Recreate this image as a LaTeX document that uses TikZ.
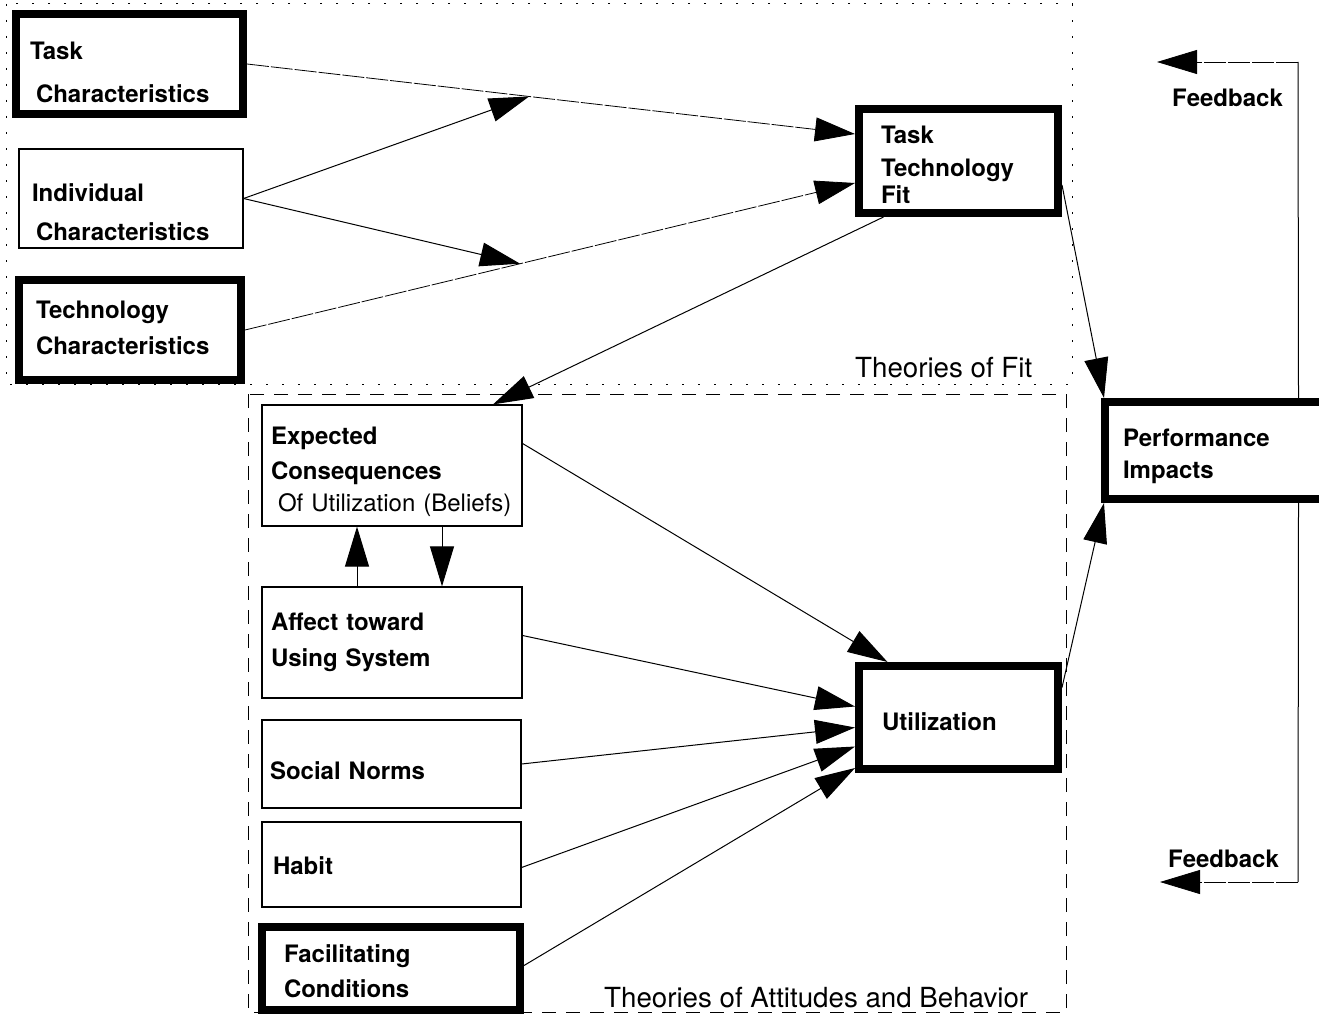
\documentclass[tikz,border=0pt]{standalone}
\usepackage{fontspec}
\setmainfont{TeX Gyre Heros}
\usetikzlibrary{arrows.meta}

\newcommand{\boxfont}{\fontsize{24}{30}\selectfont\bfseries}
\newcommand{\areafont}{\fontsize{27.7}{32}\selectfont}

\begin{document}
\begin{tikzpicture}[x=1pt, y=-1pt,
  box/.style n args={4}{draw, line width=1.2pt, anchor=text, align=left,
    font=\boxfont, inner ysep=0pt, inner xsep=#1pt, text width=#2pt,
    text height=#3pt, text depth=#4pt},
  heavy/.style={line width=8pt},
  link/.style={line width=1pt, -{Triangle[length=40pt,width=24pt]}},
  faint/.style={link, line width=0.8pt, dash pattern=on 22pt off 2pt},
  fitarea/.style={line width=1pt, dash pattern=on 2pt off 14pt},
  attarea/.style={line width=1pt, dash pattern=on 14pt off 10pt},
  area/.style={font=\areafont, anchor=base west, inner sep=0pt},
  fb/.style={font=\boxfont, anchor=base west, inner sep=0pt}]
  \useasboundingbox (0,0) rectangle (1319,1014);
  \clip (0,0) rectangle (1319,1014);

  % the two theory areas
  \draw[fitarea] (6,4) rectangle (1072,384);
  \draw[attarea] (248,394) rectangle (1066,1012);
  \node[area] (fitlabel) at (855,377) {Theories of Fit};
  \node[area] (attlabel) at (604,1007) {Theories of Attitudes and Behavior};

  % fit side
  \node[box={14}{199}{46}{54}, heavy] (task) at (30,60)
    {Task\\[13pt]\hspace*{6pt}Characteristics};
  \node[box={13}{198}{52}{47}] (indiv) at (32,201)
    {Individual\\[9pt]\hspace*{4pt}Characteristics};
  \node[box={17}{188}{38}{62}, heavy] (tech) at (36,318)
    {Technology\\[6pt]Characteristics};
  \node[box={22}{155}{34}{70}, heavy] (ttf) at (881,143)
    {Task\\[3pt]Technology\\[-3pt]Fit};
  \node[box={18}{199}{44}{53}, heavy] (perf) at (1123,446)
    {Performance\\[2pt]Impacts};

  % attitudes side
  \node[box={9}{242}{39}{82}] (expected) at (271,444)
    {Expected\\[5pt]Consequences\\[2pt]\mbox{\hspace*{7pt}\mdseries Of Utilization (Beliefs)}};
  \node[box={9}{242}{43}{68}] (affect) at (271,630)
    {Affect toward\\[6pt]Using System};
  \node[box={8}{243}{59}{29}] (social) at (270,779) {Social Norms};
  \node[box={11}{237}{52}{33}] (habit) at (273,874) {Habit};
  \node[box={22}{214}{35}{48}, heavy] (facil) at (284,962)
    {Facilitating\\[5pt]Conditions};
  \node[box={23}{153}{64}{39}, heavy] (util) at (882,730) {Utilization};

  % links into task technology fit
  \draw[faint] (task.east) -- coordinate[pos=0.464] (tj) ([yshift=27pt]ttf.west);
  \draw[faint] (tech.east) -- coordinate[pos=0.451] (tk) ([yshift=-22pt]ttf.west);
  \draw[link] (indiv.east) -- (tj);
  \draw[link] (indiv.east) -- (tk);
  \draw[link] ([xshift=-75pt]ttf.south) -- ([xshift=101pt]expected.north);
  \draw[link] ([yshift=-24pt]ttf.east) -- ([xshift=3pt]perf.north west);

  % links into utilization
  \draw[link] ([xshift=-35pt]affect.north) -- ([xshift=-35pt]expected.south);
  \draw[link] ([xshift=50pt]expected.south) -- ([xshift=50pt]affect.north);
  \draw[link] ([yshift=22pt]expected.east) -- ([xshift=-71pt]util.north);
  \draw[link] ([yshift=7pt]affect.east) -- ([yshift=11pt]util.west);
  \draw[link] (social.east) -- ([yshift=-10pt]util.west);
  \draw[link] ([yshift=-3pt]habit.east) -- ([yshift=-29pt]util.west);
  \draw[link] ([yshift=3pt]facil.east) -- ([yshift=5pt]util.south west);
  \draw[link] ([yshift=30pt]util.east) -- ([xshift=3pt]perf.south west);

  % feedback loops
  \coordinate (ctop) at (1298,62);
  \coordinate (fbtop) at (1157,62);
  \coordinate (cbot) at (1298,882);
  \coordinate (fbbot) at (1160,882);
  \draw[line width=1pt] ([xshift=76pt]perf.north) -- (ctop);
  \draw[faint] (ctop) -- (fbtop);
  \draw[line width=1pt] ([xshift=76pt]perf.south) -- (cbot);
  \draw[faint] (cbot) -- (fbbot);
  \node[fb] (fbtoptext) at (1172,107) {Feedback};
  \node[fb] (fbbottext) at (1168,867) {Feedback};
\end{tikzpicture}
\end{document}
